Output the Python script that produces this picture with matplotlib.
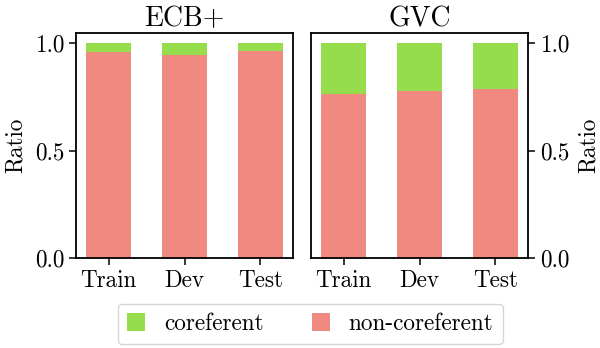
import matplotlib
matplotlib.use("Agg")
import matplotlib.pyplot as plt
import numpy as np

plt.rcParams["font.family"] = "serif"
plt.rcParams["font.serif"] = ["cmr10"]
plt.rcParams["mathtext.fontset"] = "cm"
plt.rcParams["axes.unicode_minus"] = False
plt.rcParams["axes.formatter.use_mathtext"] = True
plt.rcParams["font.size"] = 16.7

splits = ["Train", "Dev", "Test"]
ecb_noncoref = [0.958, 0.944, 0.963]
gvc_noncoref = [0.763, 0.776, 0.785]

green = "#95dd4d"
red = "#f08a80"

fig, axes = plt.subplots(1, 2, figsize=(6, 3.48), dpi=100)
x = np.arange(len(splits))

for ax, title, nc in [(axes[0], "ECB+", ecb_noncoref), (axes[1], "GVC", gvc_noncoref)]:
    nc = np.array(nc)
    ax.bar(x, nc, width=0.6, color=red, linewidth=0, label="non-coreferent")
    ax.bar(x, 1 - nc, bottom=nc, width=0.6, color=green, linewidth=0, label="coreferent")
    ax.set_title(title, fontsize=20, pad=5)
    ax.set_xticks(x)
    ax.set_xticklabels(splits)
    ax.set_ylim(0, 1.047)
    ax.set_xlim(-0.43, 2.43)
    ax.set_yticks([0, 0.5, 1.0])
    ax.set_yticklabels(["0.0", "0.5", "1.0"])
    ax.set_ylabel("Ratio", labelpad=6)
    ax.tick_params(length=5, width=1.1, pad=3.5)
    for s in ax.spines.values():
        s.set_linewidth(1.3)

axes[1].yaxis.tick_right()
axes[1].yaxis.set_label_position("right")

handles, labels = axes[0].get_legend_handles_labels()
fig.legend(handles[::-1], labels[::-1], loc="center", ncol=2,
           bbox_to_anchor=(0.517, 0.069), handlelength=0.78, handleheight=0.78,
           handletextpad=0.8, columnspacing=2.1, borderpad=0.4, borderaxespad=0)

fig.subplots_adjust(left=0.1267, right=0.88, top=0.905, bottom=0.259, wspace=0.083)
fig.savefig("out.png", dpi=100)
